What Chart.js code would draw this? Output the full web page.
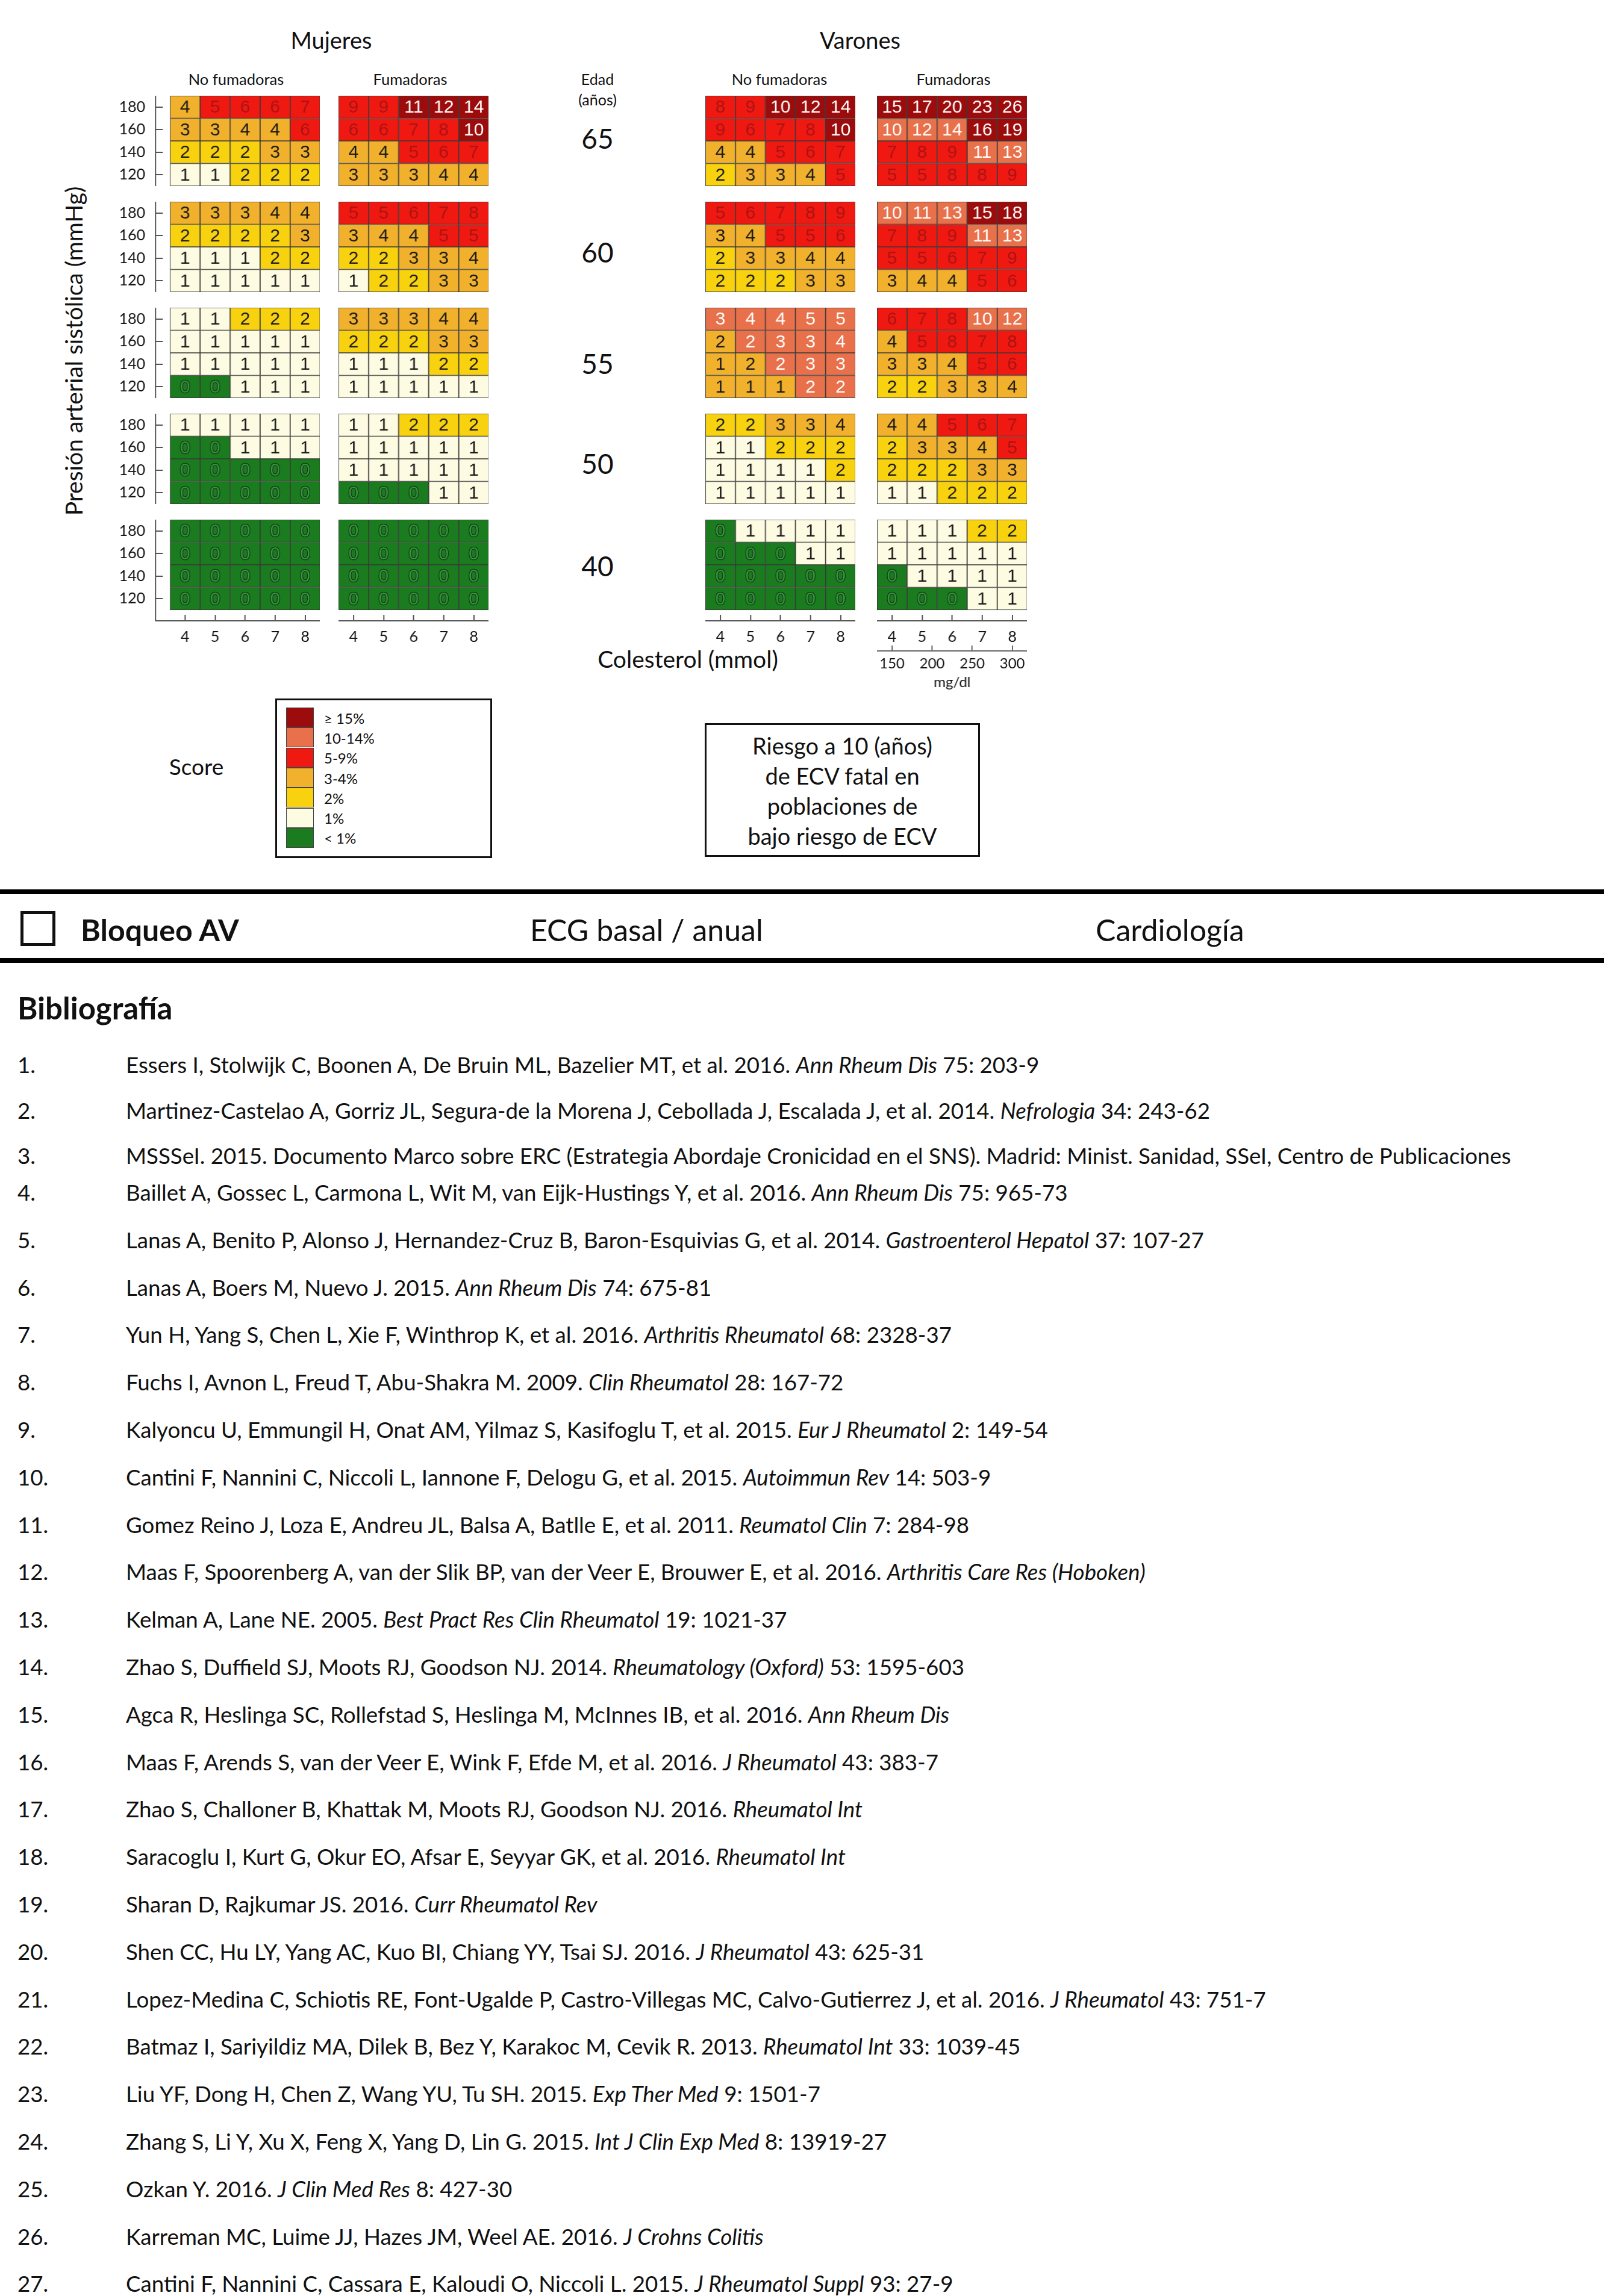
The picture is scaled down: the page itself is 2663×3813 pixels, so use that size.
<!DOCTYPE html>
<html lang="es">
<head>
<meta charset="utf-8">
<script src="https://cdn.jsdelivr.net/npm/chart.js@4.4.1/dist/chart.umd.min.js"></script>
<style>
  body { margin: 0; background: #fff; font-family: Lato, "Open Sans", sans-serif; color: #111; }
  #page { position: relative; width: 2663px; height: 3813px; overflow: hidden; background: #fff; }
  .t { position: absolute; white-space: nowrap; transform: translate(-50%, -50%); }
  .l { position: absolute; white-space: nowrap; transform: translateY(-50%); }
  .rule { position: absolute; left: 0; width: 2663px; height: 8px; background: #000; }
  .chartBox { position: absolute; }
  #leyenda { position: absolute; left: 457px; top: 1160px; width: 354px; height: 259px; border: 3px solid #111; }
  .sw { position: absolute; left: 15px; width: 46px; height: 33px; box-sizing: border-box; border: 1px solid #444; }
  .swl { position: absolute; left: 78px; font-size: 24px; transform: translateY(-50%); }
  #riesgo { position: absolute; left: 1170px; top: 1201px; width: 457px; height: 222px; box-sizing: border-box; border: 3px solid #111;
            font-size: 38px; text-align: center; line-height: 50px; padding-top: 9px; }
  #check { position: absolute; left: 34px; top: 1513px; width: 58px; height: 58px; box-sizing: border-box; border: 5px solid #111; }
  .ref { position: absolute; font-size: 36.7px; white-space: nowrap; }
</style>
</head>
<body>
<div id="page">
  <div class="t" style="left:550px; top:66px; font-size:38px;">Mujeres</div>
  <div class="t" style="left:1428px; top:66px; font-size:38px;">Varones</div>
  <div class="t" style="left:392px; top:131px; font-size:25.5px;">No fumadoras</div>
  <div class="t" style="left:681px; top:131px; font-size:25.5px;">Fumadoras</div>
  <div class="t" style="left:1294px; top:131px; font-size:25.5px;">No fumadoras</div>
  <div class="t" style="left:1583px; top:131px; font-size:25.5px;">Fumadoras</div>
  <div class="t" style="left:992px; top:131px; font-size:25px;">Edad</div>
  <div class="t" style="left:992px; top:165px; font-size:25px;">(años)</div>
  <div class="t" style="left:122px; top:583px; font-size:39px; transform: translate(-50%, -50%) rotate(-90deg);">Presión arterial sistólica (mmHg)</div>
  <div class="t" style="left:1142px; top:1094px; font-size:39px;">Colesterol (mmol)</div>
  <div class="t" style="left:326px; top:1272px; font-size:37px;">Score</div>
  <div id="leyenda"></div>
  <div id="riesgo">Riesgo a 10 (años)<br>de ECV fatal en<br>poblaciones de<br>bajo riesgo de ECV</div>

  <div class="rule" style="top:1477px;"></div>
  <div id="check"></div>
  <div class="l" style="left:134px; top:1544px; font-size:50px; font-weight:bold;">Bloqueo AV</div>
  <div class="l" style="left:880px; top:1544px; font-size:50px;">ECG basal / anual</div>
  <div class="l" style="left:1819px; top:1544px; font-size:50px;">Cardiología</div>
  <div class="rule" style="top:1591px;"></div>
  <div class="l" style="left:29px; top:1673px; font-size:51px; font-weight:bold;">Bibliografía</div>
  <div id="refs"></div>
</div>

<script>
// Ejes de la tabla SCORE
const edades = [65, 60, 55, 50, 40];
const colesterolMmol = [4, 5, 6, 7, 8];
const colesterolMgdl = [150, 200, 250, 300];
const presion = [180, 160, 140, 120];

// Riesgo (%) por edad -> fila de presión -> columna de colesterol
const mujeresNoFumadoras = [
  [[4, 5, 6, 6, 7], [3, 3, 4, 4, 6], [2, 2, 2, 3, 3], [1, 1, 2, 2, 2]],
  [[3, 3, 3, 4, 4], [2, 2, 2, 2, 3], [1, 1, 1, 2, 2], [1, 1, 1, 1, 1]],
  [[1, 1, 2, 2, 2], [1, 1, 1, 1, 1], [1, 1, 1, 1, 1], [0, 0, 1, 1, 1]],
  [[1, 1, 1, 1, 1], [0, 0, 1, 1, 1], [0, 0, 0, 0, 0], [0, 0, 0, 0, 0]],
  [[0, 0, 0, 0, 0], [0, 0, 0, 0, 0], [0, 0, 0, 0, 0], [0, 0, 0, 0, 0]]
];
const mujeresFumadoras = [
  [[9, 9, 11, 12, 14], [6, 6, 7, 8, 10], [4, 4, 5, 6, 7], [3, 3, 3, 4, 4]],
  [[5, 5, 6, 7, 8], [3, 4, 4, 5, 5], [2, 2, 3, 3, 4], [1, 2, 2, 3, 3]],
  [[3, 3, 3, 4, 4], [2, 2, 2, 3, 3], [1, 1, 1, 2, 2], [1, 1, 1, 1, 1]],
  [[1, 1, 2, 2, 2], [1, 1, 1, 1, 1], [1, 1, 1, 1, 1], [0, 0, 0, 1, 1]],
  [[0, 0, 0, 0, 0], [0, 0, 0, 0, 0], [0, 0, 0, 0, 0], [0, 0, 0, 0, 0]]
];
const varonesNoFumadores = [
  [[8, 9, 10, 12, 14], [9, 6, 7, 8, 10], [4, 4, 5, 6, 7], [2, 3, 3, 4, 5]],
  [[5, 6, 7, 8, 9], [3, 4, 5, 5, 6], [2, 3, 3, 4, 4], [2, 2, 2, 3, 3]],
  [[3, 4, 4, 5, 5], [2, 2, 3, 3, 4], [1, 2, 2, 3, 3], [1, 1, 1, 2, 2]],
  [[2, 2, 3, 3, 4], [1, 1, 2, 2, 2], [1, 1, 1, 1, 2], [1, 1, 1, 1, 1]],
  [[0, 1, 1, 1, 1], [0, 0, 0, 1, 1], [0, 0, 0, 0, 0], [0, 0, 0, 0, 0]]
];
const varonesFumadores = [
  [[15, 17, 20, 23, 26], [10, 12, 14, 16, 19], [7, 8, 9, 11, 13], [5, 5, 8, 8, 9]],
  [[10, 11, 13, 15, 18], [7, 8, 9, 11, 13], [5, 5, 6, 7, 9], [3, 4, 4, 5, 6]],
  [[6, 7, 8, 10, 12], [4, 5, 8, 7, 8], [3, 3, 4, 5, 6], [2, 2, 3, 3, 4]],
  [[4, 4, 5, 6, 7], [2, 3, 3, 4, 5], [2, 2, 2, 3, 3], [1, 1, 2, 2, 2]],
  [[1, 1, 1, 2, 2], [1, 1, 1, 1, 1], [0, 1, 1, 1, 1], [0, 0, 0, 1, 1]]
];
// some grids of the original are printed with other colour bands than their values give
const bandaMujeresFum65 = [[4, 4, 6, 6, 6], [4, 4, 4, 4, 6], [3, 3, 4, 4, 4], [3, 3, 3, 3, 3]];
const bandaVaronesNoFum65 = [[4, 4, 6, 6, 6], [4, 4, 4, 4, 6], [3, 3, 4, 4, 4], [2, 3, 3, 3, 4]];
const bandaVaronesNoFum55 = [[5, 5, 5, 5, 5], [3, 5, 5, 5, 5], [3, 3, 5, 5, 5], [3, 3, 3, 5, 5]];

const bandas = ['< 1%', '1%', '2%', '3-4%', '5-9%', '10-14%', '\u2265 15%'];
const colores = ['#1b7c1f', '#fdfbe1', '#f8d20f', '#f1b12c', '#ef1912', '#e8704a', '#9d0c0c'];
const colorTexto = ['#3f9146', '#1a1a1a', '#1a1a1a', '#1a1a1a', '#ab1414', '#ffffff', '#ffffff'];

const bibliografia = [
  ['Essers I, Stolwijk C, Boonen A, De Bruin ML, Bazelier MT, et al. 2016. ', 'Ann Rheum Dis', ' 75: 203-9'],
  ['Martinez-Castelao A, Gorriz JL, Segura-de la Morena J, Cebollada J, Escalada J, et al. 2014. ', 'Nefrologia', ' 34: 243-62'],
  ['MSSSeI. 2015. Documento Marco sobre ERC (Estrategia Abordaje Cronicidad en el SNS). Madrid: Minist. Sanidad, SSeI, Centro de Publicaciones', '', ''],
  ['Baillet A, Gossec L, Carmona L, Wit M, van Eijk-Hustings Y, et al. 2016. ', 'Ann Rheum Dis', ' 75: 965-73'],
  ['Lanas A, Benito P, Alonso J, Hernandez-Cruz B, Baron-Esquivias G, et al. 2014. ', 'Gastroenterol Hepatol', ' 37: 107-27'],
  ['Lanas A, Boers M, Nuevo J. 2015. ', 'Ann Rheum Dis', ' 74: 675-81'],
  ['Yun H, Yang S, Chen L, Xie F, Winthrop K, et al. 2016. ', 'Arthritis Rheumatol', ' 68: 2328-37'],
  ['Fuchs I, Avnon L, Freud T, Abu-Shakra M. 2009. ', 'Clin Rheumatol', ' 28: 167-72'],
  ['Kalyoncu U, Emmungil H, Onat AM, Yilmaz S, Kasifoglu T, et al. 2015. ', 'Eur J Rheumatol', ' 2: 149-54'],
  ['Cantini F, Nannini C, Niccoli L, Iannone F, Delogu G, et al. 2015. ', 'Autoimmun Rev', ' 14: 503-9'],
  ['Gomez Reino J, Loza E, Andreu JL, Balsa A, Batlle E, et al. 2011. ', 'Reumatol Clin', ' 7: 284-98'],
  ['Maas F, Spoorenberg A, van der Slik BP, van der Veer E, Brouwer E, et al. 2016. ', 'Arthritis Care Res (Hoboken)', ''],
  ['Kelman A, Lane NE. 2005. ', 'Best Pract Res Clin Rheumatol', ' 19: 1021-37'],
  ['Zhao S, Duffield SJ, Moots RJ, Goodson NJ. 2014. ', 'Rheumatology (Oxford)', ' 53: 1595-603'],
  ['Agca R, Heslinga SC, Rollefstad S, Heslinga M, McInnes IB, et al. 2016. ', 'Ann Rheum Dis', ''],
  ['Maas F, Arends S, van der Veer E, Wink F, Efde M, et al. 2016. ', 'J Rheumatol', ' 43: 383-7'],
  ['Zhao S, Challoner B, Khattak M, Moots RJ, Goodson NJ. 2016. ', 'Rheumatol Int', ''],
  ['Saracoglu I, Kurt G, Okur EO, Afsar E, Seyyar GK, et al. 2016. ', 'Rheumatol Int', ''],
  ['Sharan D, Rajkumar JS. 2016. ', 'Curr Rheumatol Rev', ''],
  ['Shen CC, Hu LY, Yang AC, Kuo BI, Chiang YY, Tsai SJ. 2016. ', 'J Rheumatol', ' 43: 625-31'],
  ['Lopez-Medina C, Schiotis RE, Font-Ugalde P, Castro-Villegas MC, Calvo-Gutierrez J, et al. 2016. ', 'J Rheumatol', ' 43: 751-7'],
  ['Batmaz I, Sariyildiz MA, Dilek B, Bez Y, Karakoc M, Cevik R. 2013. ', 'Rheumatol Int', ' 33: 1039-45'],
  ['Liu YF, Dong H, Chen Z, Wang YU, Tu SH. 2015. ', 'Exp Ther Med', ' 9: 1501-7'],
  ['Zhang S, Li Y, Xu X, Feng X, Yang D, Lin G. 2015. ', 'Int J Clin Exp Med', ' 8: 13919-27'],
  ['Ozkan Y. 2016. ', 'J Clin Med Res', ' 8: 427-30'],
  ['Karreman MC, Luime JJ, Hazes JM, Weel AE. 2016. ', 'J Crohns Colitis', ''],
  ['Cantini F, Nannini C, Cassara E, Kaloudi O, Niccoli L. 2015. ', 'J Rheumatol Suppl', ' 93: 27-9']
];

Chart.defaults.font.family = 'Lato, "Open Sans", sans-serif';
Chart.defaults.color = '#111';
Chart.defaults.animation = false;

function banda(v) {
  if (v < 1) return 0;
  if (v < 2) return 1;
  if (v < 3) return 2;
  if (v < 5) return 3;
  if (v < 10) return 4;
  if (v < 15) return 5;
  return 6;
}

function bandaImpresa(panel, edad) {
  if (panel === 1 && edad === 65) return bandaMujeresFum65;
  if (panel === 2 && edad === 65) return bandaVaronesNoFum65;
  if (panel === 2 && edad === 55) return bandaVaronesNoFum55;
  return null;
}

// layout of the grids on the page
const page = document.getElementById('page');
const celdaW = 49.7, celdaH = 37.5;
const panelX = [282, 562, 1171, 1456];
const panelTop = 159, pasoEdad = 176;
const edadY = [229, 418, 603, 769, 939];
const ejeY = 258, yW = 80, huecoX = 18, xH = 40, xHmg = 50, x2H = 67;
const paneles = [mujeresNoFumadoras, mujeresFumadoras, varonesNoFumadores, varonesFumadores];

edades.forEach((e, i) => {
  const d = document.createElement('div');
  d.className = 't';
  d.style.cssText = `left:992px; top:${edadY[i]}px; font-size:46px;`;
  d.textContent = e;
  page.appendChild(d);
});

// numbers inside the cells
const numeros = {
  id: 'numeros',
  afterDatasetsDraw(chart) {
    const ctx = chart.ctx;
    const meta = chart.getDatasetMeta(0);
    const datos = chart.data.datasets[0].data;
    ctx.save();
    ctx.font = '30px "Liberation Sans", Arial, sans-serif';
    ctx.textAlign = 'center';
    ctx.textBaseline = 'middle';
    meta.data.forEach((bar, i) => {
      const p = bar.getProps(['x', 'y', 'base'], true);
      const cy = (p.y + p.base) / 2 + 1;
      const v = datos[i].v;
      const b = datos[i].b;
      if (b === 0) {
        ctx.lineWidth = 2.5;
        ctx.strokeStyle = '#0c3a10';
        ctx.strokeText(String(v), p.x, cy);
      }
      ctx.fillStyle = colorTexto[b];
      ctx.fillText(String(v), p.x, cy);
    });
    ctx.restore();
  }
};

function sinRelleno(s) {
  s.paddingTop = 0; s.paddingBottom = 0; s.paddingLeft = 0; s.paddingRight = 0;
}

function crearTabla(panel, ie) {
  const valores = paneles[panel][ie];
  const impresa = bandaImpresa(panel, edades[ie]);
  const conY = panel === 0;
  const conX = ie === edades.length - 1;
  const conMg = conX && panel === 3;
  const altoX = conMg ? xHmg : xH;
  const gridLeft = panelX[panel];
  const areaLeft = conY ? ejeY : gridLeft;
  const left = areaLeft - (conY ? yW : 0);
  const right = gridLeft + 5 * celdaW;
  const top = panelTop + ie * pasoEdad;
  const height = 4 * celdaH + (conX ? huecoX + altoX : 0) + (conMg ? x2H : 0);

  const box = document.createElement('div');
  box.className = 'chartBox';
  box.style.cssText = `left:${left}px; top:${top}px; width:${right - left}px; height:${height}px;`;
  const cv = document.createElement('canvas');
  box.appendChild(cv);
  page.appendChild(box);

  const datos = [];
  const fondos = [];
  presion.forEach((pas, r) => {
    colesterolMmol.forEach((c, k) => {
      const v = valores[r][k];
      const b = impresa ? impresa[r][k] : banda(v);
      datos.push({ x: c, y: [pas - 10, pas + 10], v: v, b: b });
      fondos.push(colores[b]);
    });
  });

  const pxUnidadX = celdaW;
  const pxUnidadY = celdaH / 20;
  const scales = {
    x: {
      type: 'linear',
      offset: false,
      display: conX,
      min: 3.5 - (gridLeft - areaLeft) / pxUnidadX,
      max: 8.5,
      afterBuildTicks: s => { s.ticks = colesterolMmol.map(v => ({ value: v })); },
      afterFit: s => { sinRelleno(s); if (conX) s.height = altoX; },
      grid: { drawOnChartArea: false, offset: false, tickLength: -10, color: '#555', lineWidth: 2 },
      border: { display: true, color: '#555', width: 2 },
      ticks: { font: { size: 25 }, padding: 22, maxRotation: 0, autoSkip: false, color: '#111' }
    },
    y: {
      type: 'linear',
      display: conY,
      min: 110 - (conX ? huecoX / pxUnidadY : 0),
      max: 190,
      afterBuildTicks: s => { s.ticks = presion.map(v => ({ value: v })); },
      afterFit: s => { sinRelleno(s); if (conY) s.width = yW; },
      grid: { drawOnChartArea: false, tickLength: -12, color: '#555', lineWidth: 2 },
      border: { display: true, color: '#555', width: 2 },
      ticks: { font: { size: 25 }, padding: 29, color: '#111' }
    }
  };
  if (conMg) {
    const pend = (colesterolMgdl[3] - colesterolMgdl[0]) / (colesterolMmol[4] - colesterolMmol[0]);
    scales.x2 = {
      type: 'linear',
      position: 'bottom',
      offset: false,
      min: colesterolMgdl[0] - 0.5 * pend,
      max: colesterolMgdl[3] + 0.5 * pend,
      afterBuildTicks: s => { s.ticks = colesterolMgdl.map(v => ({ value: v })); },
      afterFit: s => { sinRelleno(s); s.height = x2H; },
      grid: { drawOnChartArea: false, offset: false, tickLength: -9, color: '#666', lineWidth: 2 },
      border: { display: true, color: '#666', width: 2 },
      ticks: { font: { size: 24 }, padding: 16, maxRotation: 0, autoSkip: false, color: '#111' },
      title: { display: true, text: 'mg/dl', font: { size: 24 }, padding: { top: 0, bottom: 0 }, color: '#111' }
    };
  }

  new Chart(cv, {
    type: 'bar',
    data: {
      datasets: [{
        data: datos,
        backgroundColor: fondos,
        borderColor: '#3a3a3a',
        borderWidth: 1.2,
        borderSkipped: false,
        barPercentage: 1,
        categoryPercentage: 1
      }]
    },
    options: {
      responsive: true,
      maintainAspectRatio: false,
      layout: { padding: 0 },
      scales: scales,
      plugins: { legend: { display: false }, tooltip: { enabled: false } }
    },
    plugins: [numeros]
  });
}

paneles.forEach((p, panel) => {
  edades.forEach((e, ie) => crearTabla(panel, ie));
});

// legend of the score bands
const leyenda = document.getElementById('leyenda');
bandas.slice().reverse().forEach((txt, i) => {
  const b = bandas.length - 1 - i;
  const sw = document.createElement('div');
  sw.className = 'sw';
  sw.style.top = (12 + i * 33.3) + 'px';
  sw.style.background = colores[b];
  leyenda.appendChild(sw);
  const lb = document.createElement('div');
  lb.className = 'swl';
  lb.style.top = (12 + i * 33.3 + 16.6) + 'px';
  lb.textContent = txt;
  leyenda.appendChild(lb);
});

// bibliography
const refs = document.getElementById('refs');
let y = 1768;
bibliografia.forEach((r, i) => {
  const n = document.createElement('div');
  n.className = 'ref';
  n.style.cssText = `left:29px; top:${y}px; transform:translateY(-50%);`;
  n.textContent = (i + 1) + '.';
  refs.appendChild(n);
  const t = document.createElement('div');
  t.className = 'ref';
  t.style.cssText = `left:209px; top:${y}px; transform:translateY(-50%);`;
  t.appendChild(document.createTextNode(r[0]));
  if (r[1]) {
    const it = document.createElement('i');
    it.textContent = r[1];
    t.appendChild(it);
  }
  if (r[2]) t.appendChild(document.createTextNode(r[2]));
  refs.appendChild(t);
  y += (i < 2) ? 75.5 : (i === 2 ? 61 : 78.8);
});
</script>
</body>
</html>
